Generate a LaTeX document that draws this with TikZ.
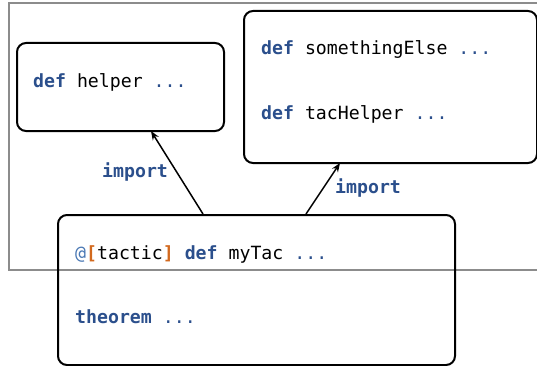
\documentclass[tikz,border=0pt]{standalone}
\usepackage{fontspec}
\setmonofont{DejaVu Sans Mono}
\usetikzlibrary{arrows.meta}
\definecolor{kw}{HTML}{2B4F8C}
\definecolor{attr}{HTML}{4A78B4}
\definecolor{brk}{HTML}{D2691E}
\definecolor{frame}{HTML}{8C8C8C}
\newcommand{\kwd}[1]{\textcolor{kw}{\bfseries #1}}
\newcommand{\elli}{\textcolor{kw}{...}}
\begin{document}
\begin{tikzpicture}[x=1pt,y=1pt,
  box/.style={draw=black, line width=2pt, rounded corners=9pt},
  code/.style={anchor=base west, inner sep=0pt, font=\ttfamily\fontsize{18.2}{20}\selectfont},
  conn/.style={line width=1.5pt, -{Stealth[length=9pt,width=7pt]}}]
\useasboundingbox (0,0) rectangle (537,365);
\draw[frame, line width=2pt] (9,362) rectangle (560,95);
\node[box, minimum width=207pt, minimum height=88pt, anchor=north west] (helper) at (16,323) {};
\node[box, minimum width=293pt, minimum height=152pt, anchor=north west] (other) at (243,355) {};
\node[box, minimum width=397pt, minimum height=150pt, anchor=north west] (main) at (57,151) {};
\node[code] (t1) at (33,278) {\kwd{def} helper \elli};
\node[code] (t2) at (261,310) {\kwd{def} somethingElse \elli};
\node[code] (t3) at (261,246) {\kwd{def} tacHelper \elli};
\node[code] (t4) at (75,106) {\textcolor{attr}{@}\textcolor{brk}{\bfseries[}tactic\textcolor{brk}{\bfseries]} \kwd{def} myTac \elli};
\node[code] (t5) at (75,42) {\kwd{theorem} \elli};
\node[code] (l1) at (102,188) {\kwd{import}};
\node[code] (l2) at (335,172) {\kwd{import}};
\coordinate (s1) at (203,151);
\coordinate (e1) at (151,234);
\coordinate (s2) at (306,151);
\coordinate (e2) at (340,202);
\draw[conn] (s1) -- (e1);
\draw[conn] (s2) -- (e2);
\end{tikzpicture}
\end{document}
